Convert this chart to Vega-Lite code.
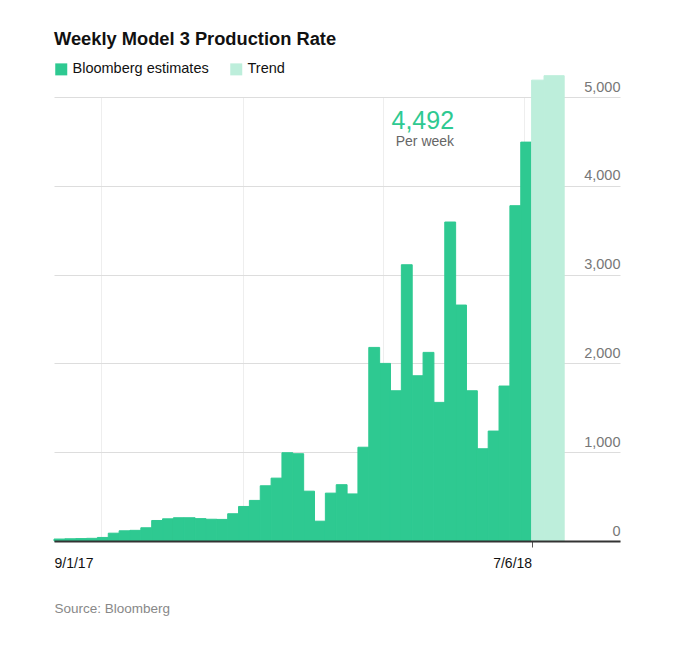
{
  "$schema": "https://vega.github.io/schema/vega-lite/v6.json",
  "width": 566,
  "height": 444,
  "autosize": {"type": "none"},
  "padding": {"left": 54, "top": 97, "right": 64, "bottom": 111},
  "background": "white",
  "config": {"view": {"stroke": null}, "font": "Liberation Sans"},
  "title": {
    "text": "Weekly Model 3 Production Rate",
    "anchor": "start",
    "frame": "group",
    "font": "Liberation Sans",
    "fontSize": 18.3,
    "fontWeight": "bold",
    "color": "#111111",
    "baseline": "alphabetic",
    "offset": -1
  },
  "resolve": {"axis": {"x": "independent", "y": "independent"}},
  "layer": [
    {
      "data": {
        "values": [
          {"start": "2017-09-01T00:00:00", "end": "2017-09-08T00:00:00", "value": 22, "series": "Bloomberg estimates"},
          {"start": "2017-09-08T00:00:00", "end": "2017-09-15T00:00:00", "value": 25, "series": "Bloomberg estimates"},
          {"start": "2017-09-15T00:00:00", "end": "2017-09-22T00:00:00", "value": 27, "series": "Bloomberg estimates"},
          {"start": "2017-09-22T00:00:00", "end": "2017-09-29T00:00:00", "value": 30, "series": "Bloomberg estimates"},
          {"start": "2017-09-29T00:00:00", "end": "2017-10-06T00:00:00", "value": 40, "series": "Bloomberg estimates"},
          {"start": "2017-10-06T00:00:00", "end": "2017-10-13T00:00:00", "value": 88, "series": "Bloomberg estimates"},
          {"start": "2017-10-13T00:00:00", "end": "2017-10-20T00:00:00", "value": 115, "series": "Bloomberg estimates"},
          {"start": "2017-10-20T00:00:00", "end": "2017-10-27T00:00:00", "value": 120, "series": "Bloomberg estimates"},
          {"start": "2017-10-27T00:00:00", "end": "2017-11-03T00:00:00", "value": 149, "series": "Bloomberg estimates"},
          {"start": "2017-11-03T00:00:00", "end": "2017-11-10T00:00:00", "value": 231, "series": "Bloomberg estimates"},
          {"start": "2017-11-10T00:00:00", "end": "2017-11-17T00:00:00", "value": 250, "series": "Bloomberg estimates"},
          {"start": "2017-11-17T00:00:00", "end": "2017-11-24T00:00:00", "value": 262, "series": "Bloomberg estimates"},
          {"start": "2017-11-24T00:00:00", "end": "2017-12-01T00:00:00", "value": 262, "series": "Bloomberg estimates"},
          {"start": "2017-12-01T00:00:00", "end": "2017-12-08T00:00:00", "value": 252, "series": "Bloomberg estimates"},
          {"start": "2017-12-08T00:00:00", "end": "2017-12-15T00:00:00", "value": 245, "series": "Bloomberg estimates"},
          {"start": "2017-12-15T00:00:00", "end": "2017-12-22T00:00:00", "value": 243, "series": "Bloomberg estimates"},
          {"start": "2017-12-22T00:00:00", "end": "2017-12-29T00:00:00", "value": 307, "series": "Bloomberg estimates"},
          {"start": "2017-12-29T00:00:00", "end": "2018-01-05T00:00:00", "value": 389, "series": "Bloomberg estimates"},
          {"start": "2018-01-05T00:00:00", "end": "2018-01-12T00:00:00", "value": 457, "series": "Bloomberg estimates"},
          {"start": "2018-01-12T00:00:00", "end": "2018-01-19T00:00:00", "value": 622, "series": "Bloomberg estimates"},
          {"start": "2018-01-19T00:00:00", "end": "2018-01-26T00:00:00", "value": 708, "series": "Bloomberg estimates"},
          {"start": "2018-01-26T00:00:00", "end": "2018-02-02T00:00:00", "value": 994, "series": "Bloomberg estimates"},
          {"start": "2018-02-02T00:00:00", "end": "2018-02-09T00:00:00", "value": 983, "series": "Bloomberg estimates"},
          {"start": "2018-02-09T00:00:00", "end": "2018-02-16T00:00:00", "value": 561, "series": "Bloomberg estimates"},
          {"start": "2018-02-16T00:00:00", "end": "2018-02-23T00:00:00", "value": 223, "series": "Bloomberg estimates"},
          {"start": "2018-02-23T00:00:00", "end": "2018-03-02T00:00:00", "value": 539, "series": "Bloomberg estimates"},
          {"start": "2018-03-02T00:00:00", "end": "2018-03-09T00:00:00", "value": 634, "series": "Bloomberg estimates"},
          {"start": "2018-03-09T00:00:00", "end": "2018-03-16T00:00:00", "value": 530, "series": "Bloomberg estimates"},
          {"start": "2018-03-16T00:00:00", "end": "2018-03-23T00:00:00", "value": 1056, "series": "Bloomberg estimates"},
          {"start": "2018-03-23T00:00:00", "end": "2018-03-30T00:00:00", "value": 2180, "series": "Bloomberg estimates"},
          {"start": "2018-03-30T00:00:00", "end": "2018-04-06T00:00:00", "value": 2000, "series": "Bloomberg estimates"},
          {"start": "2018-04-06T00:00:00", "end": "2018-04-13T00:00:00", "value": 1692, "series": "Bloomberg estimates"},
          {"start": "2018-04-13T00:00:00", "end": "2018-04-20T00:00:00", "value": 3111, "series": "Bloomberg estimates"},
          {"start": "2018-04-20T00:00:00", "end": "2018-04-27T00:00:00", "value": 1861, "series": "Bloomberg estimates"},
          {"start": "2018-04-27T00:00:00", "end": "2018-05-04T00:00:00", "value": 2124, "series": "Bloomberg estimates"},
          {"start": "2018-05-04T00:00:00", "end": "2018-05-11T00:00:00", "value": 1561, "series": "Bloomberg estimates"},
          {"start": "2018-05-11T00:00:00", "end": "2018-05-18T00:00:00", "value": 3592, "series": "Bloomberg estimates"},
          {"start": "2018-05-18T00:00:00", "end": "2018-05-25T00:00:00", "value": 2657, "series": "Bloomberg estimates"},
          {"start": "2018-05-25T00:00:00", "end": "2018-06-01T00:00:00", "value": 1692, "series": "Bloomberg estimates"},
          {"start": "2018-06-01T00:00:00", "end": "2018-06-08T00:00:00", "value": 1039, "series": "Bloomberg estimates"},
          {"start": "2018-06-08T00:00:00", "end": "2018-06-15T00:00:00", "value": 1238, "series": "Bloomberg estimates"},
          {"start": "2018-06-15T00:00:00", "end": "2018-06-22T00:00:00", "value": 1745, "series": "Bloomberg estimates"},
          {"start": "2018-06-22T00:00:00", "end": "2018-06-29T00:00:00", "value": 3776, "series": "Bloomberg estimates"},
          {"start": "2018-06-29T00:00:00", "end": "2018-07-06T00:00:00", "value": 4492, "series": "Bloomberg estimates"},
          {"start": "2018-07-06T00:00:00", "end": "2018-07-14T00:00:00", "value": 5190, "series": "Trend"},
          {"start": "2018-07-14T00:00:00", "end": "2018-07-27T00:00:00", "value": 5240, "series": "Trend"}
        ]
      },
      "mark": {"type": "bar", "orient": "vertical", "strokeWidth": 1},
      "encoding": {
        "x": {
          "field": "start",
          "type": "temporal",
          "scale": {"domain": [{"year": 2017, "month": 9, "date": 1}, {"year": 2018, "month": 9, "date": 1}], "padding": 0},
          "axis": {
            "orient": "bottom",
            "values": [{"year": 2017, "month": 9, "date": 1}, {"year": 2018, "month": 7, "date": 6}],
            "format": "%-m/%-d/%y",
            "grid": false,
            "domain": true,
            "domainColor": "#333333",
            "domainWidth": 2,
            "ticks": true,
            "tickSize": 6,
            "tickWidth": 1,
            "tickColor": {"condition": {"test": "month(datum.value) == 8", "value": "transparent"}, "value": "#555555"},
            "labelAlign": {"condition": {"test": "month(datum.value) == 8", "value": "left"}, "value": "right"},
            "labelBaseline": "alphabetic",
            "labelPadding": 20,
            "labelFont": "Liberation Sans",
            "labelFontSize": 14,
            "labelColor": "#111111",
            "labelFlush": false,
            "labelOverlap": false,
            "title": "Source: Bloomberg",
            "titleAnchor": "start",
            "titleAlign": "left",
            "titleBaseline": "alphabetic",
            "titleFont": "Liberation Sans",
            "titleFontSize": 13.5,
            "titleFontWeight": "normal",
            "titleColor": "#888888",
            "titlePadding": 42,
            "zindex": 1
          }
        },
        "x2": {"field": "end"},
        "y": {
          "field": "value",
          "type": "quantitative",
          "scale": {"domain": [0, 5000], "nice": false},
          "axis": {
            "orient": "right",
            "values": [0, 1000, 2000, 3000, 4000, 5000],
            "format": ",d",
            "title": null,
            "domain": false,
            "ticks": false,
            "tickSize": 0,
            "labelPadding": 0,
            "labelAlign": "right",
            "labelBaseline": "alphabetic",
            "labelDx": -3,
            "labelOffset": -6,
            "labelFont": "Liberation Sans",
            "labelFontSize": 14.5,
            "labelColor": "#777777",
            "grid": true,
            "gridColor": "#dddddd",
            "gridWidth": 1,
            "zindex": 0
          }
        },
        "y2": {"datum": 0},
        "color": {
          "field": "series",
          "type": "nominal",
          "scale": {"domain": ["Bloomberg estimates", "Trend"], "range": ["#2ec991", "#bdeedb"]},
          "legend": {
            "orient": "none",
            "legendX": 0,
            "legendY": -35,
            "direction": "horizontal",
            "title": null,
            "symbolType": "square",
            "symbolSize": 144,
            "symbolStrokeWidth": 0,
            "labelFont": "Liberation Sans",
            "labelFontSize": 14.5,
            "labelColor": "#111111",
            "labelOffset": 4,
            "columnPadding": 20,
            "padding": 0
          }
        },
        "stroke": {
          "field": "series",
          "type": "nominal",
          "scale": {"domain": ["Bloomberg estimates", "Trend"], "range": ["#2ec991", "#bdeedb"]},
          "legend": null
        }
      }
    },
    {
      "data": {"values": [{"date": "2018-05-17T00:00:00", "value": 4640, "label": "4,492"}]},
      "mark": {"type": "text", "align": "right", "baseline": "alphabetic", "font": "Liberation Sans", "fontSize": 25, "color": "#2ec991"},
      "encoding": {
        "x": {
          "field": "date",
          "type": "temporal",
          "axis": {
            "orient": "top",
            "values": [{"year": 2017, "month": 10, "date": 1}, {"year": 2018, "month": 1, "date": 1}, {"year": 2018, "month": 4, "date": 1}, {"year": 2018, "month": 7, "date": 1}],
            "grid": true,
            "gridColor": "#eeeeee",
            "gridWidth": 1,
            "domain": false,
            "ticks": false,
            "labels": false,
            "title": null,
            "zindex": 0
          }
        },
        "y": {"field": "value", "type": "quantitative", "axis": null},
        "text": {"field": "label"}
      }
    },
    {
      "data": {"values": [{"date": "2018-05-17T00:00:00", "value": 4445, "label": "Per week"}]},
      "mark": {"type": "text", "align": "right", "baseline": "alphabetic", "font": "Liberation Sans", "fontSize": 14, "color": "#666666"},
      "encoding": {
        "x": {"field": "date", "type": "temporal", "axis": null},
        "y": {"field": "value", "type": "quantitative", "axis": null},
        "text": {"field": "label"}
      }
    }
  ]
}
